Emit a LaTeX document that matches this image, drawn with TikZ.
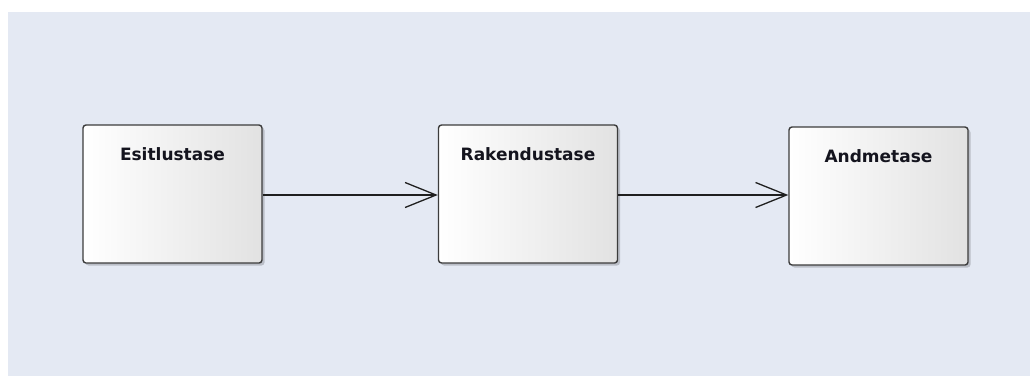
\documentclass[tikz,border=0pt]{standalone}
\usepackage{fontspec}
\setmainfont{DejaVu Sans}
\usetikzlibrary{arrows.meta,shadows}
\definecolor{canvasbg}{HTML}{E4E9F3}
\definecolor{boxedge}{HTML}{3C3C3C}
\definecolor{boxgrad}{HTML}{E2E2E2}
\definecolor{labeltext}{HTML}{14141E}
\tikzset{
  layerbox/.style={
    rectangle, rounded corners=3pt, draw=boxedge, line width=1.4pt,
    left color=white, right color=boxgrad,
    minimum width=179pt, minimum height=138pt, inner sep=0pt,
    drop shadow={shadow xshift=2.5pt, shadow yshift=-2.5pt, opacity=0.18, fill=black}
  },
  layertitle/.style={
    font=\fontsize{17}{20}\selectfont\bfseries, text=labeltext, inner sep=0pt
  },
  flow/.style={
    draw=black!88, line width=1.3pt,
    -{Straight Barb[length=31pt, width=25pt, line width=1.3pt]}
  }
}
\begin{document}
\begin{tikzpicture}[x=1pt, y=-1pt]
  % canvas with its white margin at top and left
  \useasboundingbox (0,0) rectangle (1030,376);
  \fill[white] (0,0) rectangle (1030,376);
  \fill[canvasbg] (8,12) rectangle (1030,376);

  % the three layers
  \node[layerbox] (esit) at (172.5,194) {};
  \node[layerbox] (rake) at (528,194) {};
  \node[layerbox] (andm) at (878.5,196) {};

  \node[layertitle, anchor=north] (esitT) at ([yshift=-23pt]esit.north) {Esitlustase};
  \node[layertitle, anchor=north] (rakeT) at ([yshift=-23pt]rake.north) {Rakendustase};
  \node[layertitle, anchor=north] (andmT) at ([yshift=-23pt]andm.north) {Andmetase};

  % dependencies between the layers
  \draw[flow] ([yshift=-1pt]esit.east) -- ([yshift=-1pt]rake.west);
  \draw[flow] ([yshift=-1pt]rake.east) -- ([yshift=-1pt]rake.east -| andm.west);
\end{tikzpicture}
\end{document}
